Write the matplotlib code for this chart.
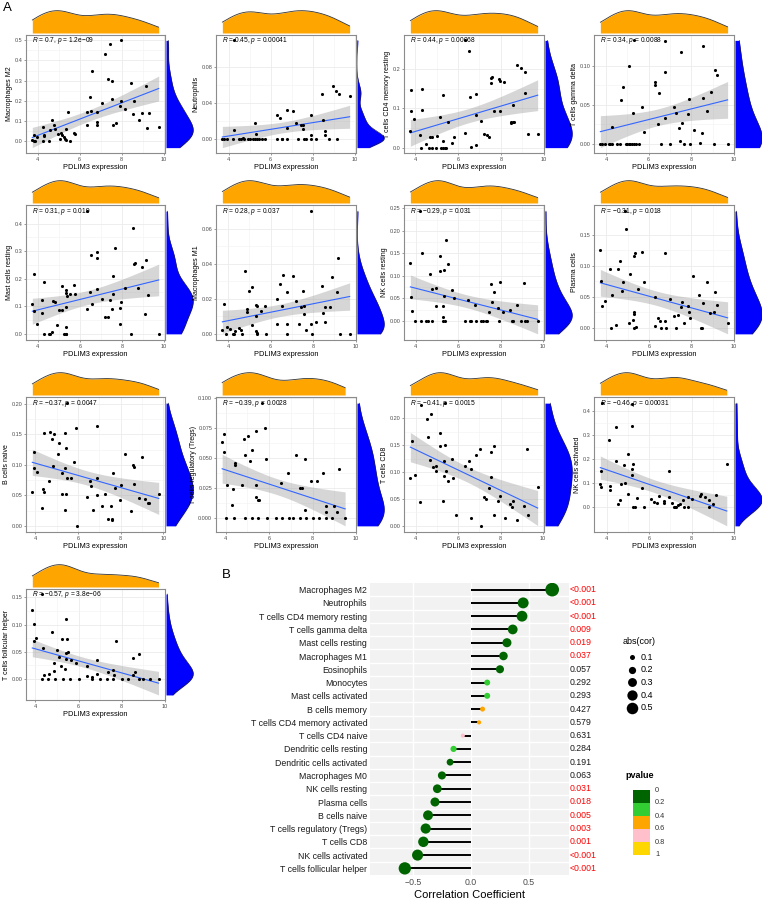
import numpy as np
import matplotlib.pyplot as plt
from matplotlib.patches import Rectangle
import matplotlib.transforms as mtransforms

plt.rcParams['font.family'] = ['Liberation Sans', 'DejaVu Sans']
plt.rcParams['mathtext.fontset'] = 'custom'
plt.rcParams['mathtext.rm'] = 'Liberation Sans'
plt.rcParams['mathtext.it'] = 'Liberation Sans:italic'

# ---- panel A data: (PDLIM3 expression, immune cell fraction)
m2_pts = [(3.81, 0.0), (3.80, 0.03), (3.74, 0.005), (3.85, 0.0), (3.95, 0.02), (4.23, 0.0), (4.26, 0.07),
          (4.31, 0.03), (4.29, 0.025), (4.54, 0.0), (4.59, 0.055), (4.70, 0.105), (4.78, 0.08), (4.81, 0.06),
          (4.95, 0.035), (5.04, 0.01), (5.13, 0.04), (5.16, 0.03), (5.24, 0.02), (5.32, 0.01), (5.36, 0.005),
          (5.35, 0.06), (5.43, 0.145), (5.55, 0.0), (5.71, 0.04), (5.78, 0.035), (6.34, 0.145), (6.36, 0.08),
          (6.48, 0.22), (6.56, 0.15), (6.60, 0.35), (6.82, 0.095), (6.82, 0.08), (6.85, 0.145), (7.07, 0.19),
          (7.22, 0.43), (7.35, 0.31), (7.46, 0.48), (7.53, 0.30), (7.56, 0.21), (7.60, 0.08), (7.72, 0.09),
          (7.92, 0.175), (7.95, 0.50), (7.98, 0.20), (8.17, 0.16), (8.47, 0.29), (8.53, 0.135), (8.60, 0.20),
          (8.82, 0.105), (8.98, 0.14), (9.15, 0.275), (9.19, 0.065), (9.29, 0.14), (9.77, 0.07)]
neu_pts = [(4.24, 0.109), (3.70, 0), (3.79, 0), (3.92, 0), (4.19, 0), (4.24, 0.0105), (4.47, 0), (4.59, 0),
           (4.66, 0.001), (4.74, 0), (4.90, 0), (5.03, 0), (5.14, 0), (5.25, 0), (5.34, 0), (5.46, 0), (5.61, 0),
           (5.72, 0), (5.25, 0.018), (5.30, 0.006), (6.29, 0), (6.31, 0.027), (6.45, 0.024), (6.52, 0), (6.56, 0),
           (6.78, 0), (6.78, 0.032), (6.80, 0.012), (7.04, 0.031), (7.20, 0.018), (7.32, 0), (7.43, 0.016),
           (7.53, 0.011), (7.54, 0.016), (7.59, 0), (7.69, 0), (7.91, 0), (7.94, 0.005), (7.94, 0.027), (8.15, 0),
           (8.43, 0.05), (8.51, 0.021), (8.57, 0.009), (8.57, 0.005), (8.78, 0), (8.95, 0.059), (9.13, 0.053),
           (9.27, 0.05), (9.17, 0), (9.76, 0.048)]
cd4r_pts = [(3.77, 0.0425), (3.82, 0.147), (3.82, 0.092), (3.95, 0.072), (4.2, 0.031), (4.28, 0), (4.31, 0.149),
            (4.31, 0.095), (4.51, 0.0085), (4.62, 0), (4.69, 0.026), (4.77, 0.028), (4.77, 0), (4.97, 0),
            (5.0, 0.030), (5.15, 0.077), (5.2, 0), (5.31, 0.133), (5.29, 0.016), (5.31, 0), (5.38, 0), (5.43, 0),
            (5.54, 0.065), (5.72, 0.013), (5.8, 0.028), (6.31, 0.037), (6.34, 0.273), (6.49, 0.247), (6.54, 0.129),
            (6.62, 0.002), (6.82, 0.137), (6.82, 0.006), (6.82, 0.082), (7.05, 0.069), (7.2, 0.034), (7.35, 0.033),
            (7.46, 0.026), (7.54, 0.164), (7.54, 0.178), (7.58, 0.181), (7.69, 0.094), (7.91, 0.175), (7.94, 0.170),
            (7.97, 0.092), (8.15, 0.167), (8.46, 0.066), (8.49, 0.062), (8.55, 0.109), (8.57, 0.064), (8.62, 0.066),
            (8.77, 0.21), (8.95, 0.203), (9.11, 0.139), (9.15, 0.192), (9.25, 0.034), (9.72, 0.034)]
gd_pts = [(3.73, 0), (3.81, 0), (3.94, 0), (4.12, 0), (4.2, 0), (4.28, 0), (4.52, 0), (4.64, 0), (4.91, 0),
          (4.98, 0), (5.06, 0), (5.14, 0), (5.22, 0), (5.33, 0), (5.42, 0), (5.53, 0), (6.58, 0), (7.02, 0),
          (7.67, 0), (7.92, 0), (9.08, 0), (9.70, 0), (4.28, 0.021), (4.72, 0.056), (4.77, 0.073), (5.09, 0.10),
          (5.28, 0.040), (5.30, 0.133), (5.69, 0.047), (5.77, 0.015), (6.28, 0.08), (6.28, 0.075), (6.44, 0.026),
          (6.5, 0.065), (6.78, 0.132), (6.78, 0.092), (6.78, 0.033), (7.17, 0.047), (7.3, 0.04), (7.42, 0.02),
          (7.48, 0.003), (7.52, 0.118), (7.56, 0.027), (7.86, 0.038), (7.89, 0.057), (8.11, 0.018), (8.41, 0.001),
          (8.48, 0.014), (8.55, 0.059), (8.55, 0.126), (8.75, 0.042), (8.91, 0.067), (9.13, 0.095), (9.22, 0.088)]
mastr_pts = [(3.74, 0.11), (3.81, 0.217), (3.81, 0.083), (3.95, 0.034), (4.2, 0.076), (4.2, 0.121), (4.28, 0),
             (4.31, 0.189), (4.51, 0), (4.59, 0), (4.67, 0.008), (4.74, 0.119), (4.81, 0.117), (4.9, 0.032),
             (5.01, 0.085), (5.13, 0.172), (5.16, 0.085), (5.27, 0), (5.32, 0), (5.36, 0), (5.32, 0.159),
             (5.32, 0.148), (5.32, 0.025), (5.35, 0.097), (5.4, 0.136), (5.55, 0.145), (5.71, 0.177), (5.78, 0.145),
             (6.33, 0.445), (6.33, 0.089), (6.47, 0.153), (6.53, 0.286), (6.6, 0.107), (6.82, 0.297), (6.82, 0.275),
             (6.84, 0.163), (7.07, 0.127), (7.21, 0.062), (7.33, 0.062), (7.44, 0.123), (7.57, 0.208), (7.57, 0.145),
             (7.53, 0.089), (7.69, 0.311), (7.91, 0.094), (7.92, 0.037), (7.95, 0.116), (8.14, 0.168), (8.42, 0),
             (8.51, 0.384), (8.57, 0.254), (8.6, 0.256), (8.78, 0.166), (8.95, 0.242), (9.12, 0.073), (9.16, 0.268),
             (9.26, 0.142), (9.75, 0)]
m1_pts = [(3.73, 0.002), (3.81, 0.017), (3.89, 0), (3.97, 0.004), (4.08, 0.003), (4.24, 0), (4.28, 0),
          (4.31, 0.0015), (4.52, 0.0035), (4.6, 0.002), (4.66, 0), (4.78, 0.036), (4.91, 0.0123), (4.99, 0.0247),
          (5.13, 0.0267), (5.14, 0.005), (4.91, 0.014), (5.29, 0.0103), (5.3, 0.0164), (5.32, 0.0015), (5.36, 0),
          (5.38, 0.0005), (5.36, 0.016), (5.54, 0.013), (5.72, 0.016), (5.77, 0), (6.3, 0.0198), (6.3, 0.0058),
          (6.46, 0.0285), (6.55, 0.0159), (6.6, 0.0336), (6.79, 0.024), (6.79, 0.0054), (6.79, 0), (7.06, 0.033),
          (7.18, 0.0187), (7.32, 0.0058), (7.42, 0.0151), (7.53, 0.0243), (7.56, 0.0161), (7.57, 0.0116),
          (7.68, 0.002), (7.89, 0.0058), (7.92, 0.07), (7.95, 0), (8.15, 0.0067), (8.42, 0.0271), (8.48, 0.012),
          (8.55, 0.0069), (8.58, 0.0153), (8.78, 0.0151), (8.91, 0.0325), (9.13, 0.0238), (9.17, 0.0434),
          (9.25, 0), (9.72, 0)]
nkr_pts = [(3.75, 0.128), (3.8, 0.054), (3.81, 0.022), (3.95, 0), (4.19, 0.244), (4.27, 0), (4.3, 0.151),
           (4.5, 0), (4.58, 0), (4.66, 0.104), (4.77, 0.071), (4.78, 0), (4.94, 0.033), (4.97, 0.072),
           (5.13, 0.144), (5.16, 0.11), (5.27, 0), (5.29, 0.008), (5.29, 0.033), (5.32, 0.056), (5.33, 0.114),
           (5.37, 0), (5.41, 0.18), (5.52, 0.126), (5.71, 0.069), (5.79, 0.05), (6.31, 0), (6.46, 0.047),
           (6.54, 0), (6.59, 0), (6.81, 0.036), (6.83, 0), (7.06, 0), (7.19, 0), (7.3, 0), (7.34, 0), (7.44, 0.02),
           (7.53, 0.081), (7.6, 0.042), (7.69, 0.064), (7.89, 0.029), (7.92, 0), (7.96, 0.086), (8.14, 0.02),
           (8.43, 0.025), (8.52, 0), (8.58, 0), (8.76, 0.036), (8.96, 0), (9.1, 0.085), (9.15, 0), (9.23, 0),
           (9.75, 0)]
plasma_pts = [(3.72, 0.125), (3.77, 0.076), (3.78, 0.035), (3.92, 0.043), (4.19, 0.094), (4.23, 0),
              (4.27, 0.052), (4.47, 0.004), (4.55, 0.094), (4.63, 0.107), (4.73, 0.059), (4.77, 0.074),
              (4.92, 0.159), (5.06, 0.008), (5.13, 0.086), (5.25, 0.012), (5.28, 0.025), (5.28, 0.022),
              (5.3, 0.115), (5.34, 0.121), (5.31, 0), (5.38, 0.001), (4.89, 0.188), (5.48, 0.063), (5.67, 0.122),
              (5.75, 0.074), (6.27, 0.003), (6.3, 0.049), (6.42, 0.016), (6.5, 0.011), (6.56, 0), (6.77, 0.121),
              (6.77, 0.011), (6.81, 0), (7.0, 0.047), (7.16, 0.018), (7.28, 0), (7.39, 0.02), (7.52, 0.033),
              (7.55, 0.042), (7.63, 0.007), (7.86, 0.035), (7.89, 0.026), (7.91, 0.016), (8.09, 0.083),
              (8.36, 0.053), (8.45, 0), (8.5, 0), (8.53, 0.04), (8.73, 0.074), (8.88, 0.023), (9.08, 0.025),
              (9.11, 0.057), (9.22, 0.036), (9.7, 0.007)]
bn_pts = [(3.86, 0.056), (3.92, 0.121), (3.92, 0.094), (4.08, 0.089), (4.39, 0.152), (4.34, 0.06), (4.4, 0.056),
          (4.64, 0.073), (4.7, 0.153), (4.78, 0.143), (4.88, 0.15), (4.85, 0.098), (5.04, 0.118), (5.1, 0.135),
          (5.24, 0.086), (5.24, 0.052), (5.4, 0.152), (5.41, 0.095), (5.43, 0.052), (5.44, 0.128), (5.5, 0.079),
          (5.66, 0.079), (5.8, 0.105), (5.91, 0.161), (6.4, 0.047), (6.56, 0.074), (6.6, 0.066), (6.87, 0.164),
          (6.88, 0.079), (6.88, 0.051), (7.26, 0.053), (7.64, 0.086), (7.75, 0.062), (8.0, 0.067), (7.98, 0.042),
          (8.22, 0.118), (8.57, 0.099), (8.64, 0.097), (8.64, 0.069), (8.85, 0.045), (9.01, 0.113), (9.16, 0.044),
          (9.26, 0.037), (9.33, 0.037), (9.78, 0.052), (4.31, 0.029), (5.4, 0.026), (5.97, 0), (6.68, 0.026),
          (7.13, 0.033), (7.53, 0.033), (7.41, 0.012), (7.6, 0.011), (7.6, 0.009), (8.5, 0.024), (5.47, 0.201)]
treg_pts = [(3.84, 0.0636), (3.92, 0.0702), (3.92, 0.0551), (4.06, 0.0281), (4.31, 0.011), (4.36, 0.0244),
            (4.41, 0.046), (4.42, 0.0446), (4.75, 0.0281), (4.86, 0.0656), (4.91, 0.0523), (5.02, 0.0685),
            (5.1, 0.048), (5.22, 0.0565), (5.41, 0.0722), (5.41, 0.0276), (5.41, 0.0176), (5.49, 0.015),
            (5.52, 0.015), (5.68, 0.0957), (5.83, 0.075), (5.88, 0.0494), (6.55, 0.029), (6.85, 0.0378),
            (7.24, 0.0523), (7.42, 0.0253), (7.53, 0.025), (7.63, 0.049), (7.65, 0.007), (7.95, 0.031),
            (8.2, 0.031), (8.47, 0.038), (8.62, 0.01), (8.62, 0.005), (8.98, 0.01), (9.22, 0.041), (9.14, 0.005),
            (4.0, 0), (4.4, 0), (4.9, 0), (5.2, 0), (5.5, 0), (5.9, 0), (6.3, 0), (6.6, 0), (6.9, 0), (7.1, 0),
            (7.4, 0), (7.7, 0), (8.0, 0), (8.3, 0), (8.6, 0), (8.9, 0), (9.5, 0)]
cd8_pts = [(3.75, 0.089), (3.81, 0.158), (3.95, 0.094), (4.19, 0.045), (4.27, 0.224), (4.52, 0.198),
           (4.58, 0.166), (4.66, 0.123), (4.74, 0.208), (4.82, 0.109), (4.94, 0.101), (4.97, 0.111), (5.13, 0.173),
           (5.16, 0.148), (5.29, 0.047), (5.32, 0.093), (5.33, 0.12), (5.37, 0.15), (5.4, 0.228), (5.41, 0.102),
           (5.54, 0.084), (5.71, 0.125), (5.76, 0.088), (6.31, 0.111), (6.51, 0.12), (6.59, 0.105), (6.83, 0.131),
           (7.05, 0.142), (7.2, 0.053), (7.33, 0.049), (7.44, 0.071), (7.53, 0.137), (7.56, 0.091), (7.7, 0.148),
           (7.89, 0.046), (7.96, 0.056), (8.43, 0.04), (8.52, 0.035), (8.58, 0.046), (9.1, 0.037), (9.26, 0.142),
           (9.75, 0.072), (5.9, 0.02), (6.6, 0.015), (7.1, 0.0), (7.7, 0.02), (8.2, 0.015), (8.8, 0.01),
           (9.3, 0.02)]
nka_pts = [(3.7, 0.095), (3.72, 0.082), (3.8, 0.434), (3.74, 0.149), (4.13, 0.281), (4.16, 0.089), (4.16, 0.072),
           (4.42, 0.334), (4.45, 0.193), (4.53, 0.011), (4.61, 0.028), (4.66, 0.097), (4.81, 0.176), (4.86, 0.101),
           (5.02, 0.22), (5.02, 0.055), (5.17, 0.432), (5.17, 0.338), (5.17, 0.157), (5.17, 0.132), (5.22, 0.18),
           (5.25, 0), (5.33, 0), (5.45, 0.038), (5.66, 0.078), (5.75, 0), (6.09, 0.034), (6.22, 0.02),
           (6.38, 0.015), (6.48, 0.045), (6.69, 0.018), (6.69, 0.024), (6.92, 0.149), (6.95, 0.043),
           (7.08, 0.015), (7.16, 0), (7.23, 0), (7.28, 0), (7.36, 0.008), (7.44, 0.011), (7.59, 0.027), (7.66, 0),
           (7.83, 0), (7.84, 0.043), (8.03, 0.035), (8.38, 0.045), (8.44, 0.054), (8.64, 0.041), (8.8, 0.031),
           (8.84, 0), (9.03, 0.011), (9.14, 0.051), (9.66, 0.178)]
tfh_pts = [(3.86, 0.126), (3.92, 0.101), (3.92, 0.069), (4.05, 0.076), (4.31, 0.156), (4.36, 0.056),
           (4.39, 0.0075), (4.64, 0.0085), (4.78, 0.087), (4.85, 0.029), (4.88, 0.015), (5.01, 0.054),
           (5.09, 0.041), (5.21, 0.024), (5.24, 0.074), (5.36, 0.019), (5.4, 0.11), (5.41, 0.037), (5.47, 0.074),
           (5.5, 0.05), (5.44, 0.048), (5.63, 0.034), (5.86, 0.029), (6.37, 0.024), (6.4, 0.006), (6.64, 0.0035),
           (6.87, 0.035), (6.87, 0.0085), (7.38, 0.0125), (7.58, 0.016), (7.64, 0.007), (7.74, 0.07),
           (8.5, 0.0075), (8.54, 0.038), (8.62, 0.012), (8.81, 0.046), (4.3, 0), (4.6, 0), (4.9, 0), (5.3, 0),
           (5.6, 0), (6.0, 0), (6.6, 0), (7.0, 0), (7.3, 0), (7.6, 0), (8.0, 0), (8.3, 0), (8.8, 0), (9.0, 0),
           (9.3, 0), (9.7, 0)]

panel_names = ["Macrophages M2", "Neutrophils", "T cells CD4 memory resting", "T cells gamma delta",
               "Mast cells resting", "Macrophages M1", "NK cells resting", "Plasma cells",
               "B cells naive", "T cells regulatory (Tregs)", "T cells CD8", "NK cells activated",
               "T cells follicular helper"]
panel_pts = [m2_pts, neu_pts, cd4r_pts, gd_pts, mastr_pts, m1_pts, nkr_pts, plasma_pts,
             bn_pts, treg_pts, cd8_pts, nka_pts, tfh_pts]
panel_r = ["0.7", "0.45", "0.44", "0.34", "0.31", "0.28", "\u22120.29", "\u22120.31",
           "\u22120.37", "\u22120.39", "\u22120.41", "\u22120.46", "\u22120.57"]
panel_p = ["1.2e\u221209", "0.00041", "0.00068", "0.0088", "0.019", "0.037", "0.031", "0.018",
           "0.0047", "0.0028", "0.0015", "0.00031", "3.8e\u221206"]
panel_yticks = [[0.0, 0.1, 0.2, 0.3, 0.4, 0.5], [0.00, 0.04, 0.08], [0.0, 0.1, 0.2], [0.00, 0.05, 0.10],
                [0.0, 0.1, 0.2, 0.3, 0.4], [0.00, 0.02, 0.04, 0.06], [0.00, 0.05, 0.10, 0.15, 0.20, 0.25],
                [0.00, 0.05, 0.10, 0.15], [0.00, 0.05, 0.10, 0.15, 0.20], [0.000, 0.025, 0.050, 0.075, 0.100],
                [0.00, 0.05, 0.10, 0.15, 0.20], [0.0, 0.1, 0.2, 0.3, 0.4], [0.00, 0.05, 0.10, 0.15]]
panel_ydec = [1, 2, 1, 2, 1, 2, 2, 2, 2, 3, 2, 1, 2]
x_ticks = [4, 6, 8, 10]

# ---- panel B data
cells = ["Macrophages M2", "Neutrophils", "T cells CD4 memory resting", "T cells gamma delta",
         "Mast cells resting", "Macrophages M1", "Eosinophils", "Monocytes", "Mast cells activated",
         "B cells memory", "T cells CD4 memory activated", "T cells CD4 naive", "Dendritic cells resting",
         "Dendritic cells activated", "Macrophages M0", "NK cells resting", "Plasma cells", "B cells naive",
         "T cells regulatory (Tregs)", "T cells CD8", "NK cells activated", "T cells follicular helper"]
cor = [0.70, 0.45, 0.44, 0.36, 0.31, 0.28, 0.25, 0.14, 0.14, 0.10, 0.07, -0.07, -0.15, -0.18, -0.25,
       -0.29, -0.31, -0.37, -0.39, -0.41, -0.46, -0.57]
pval = [1.2e-9, 0.00041, 0.00068, 0.0088, 0.019, 0.037, 0.057, 0.292, 0.293, 0.427, 0.579, 0.631, 0.284,
        0.191, 0.063, 0.031, 0.018, 0.0047, 0.0028, 0.0015, 0.00031, 3.8e-6]
pval_text = ["<0.001", "<0.001", "<0.001", "0.009", "0.019", "0.037", "0.057", "0.292", "0.293", "0.427",
             "0.579", "0.631", "0.284", "0.191", "0.063", "0.031", "0.018", "0.005", "0.003", "0.001",
             "<0.001", "<0.001"]
p_breaks = [0, 0.2, 0.4, 0.6, 0.8, 1]
p_colors = ["#006400", "#32CD32", "#FFA500", "#FFC0CB", "#FFD700"]
size_breaks = [0.1, 0.2, 0.3, 0.4, 0.5]

W, H = 762, 900
fig = plt.figure(figsize=(W / 100, H / 100), dpi=100)


def px_axes(l, t, r, b):
    return fig.add_axes([l / W, 1 - b / H, (r - l) / W, (b - t) / H])


def kde(v, grid, adjust=1.0):
    n = len(v)
    sd = v.std(ddof=1)
    iqr = np.subtract(*np.percentile(v, [75, 25]))
    spread = min(sd, iqr / 1.34) if iqr > 0 else sd
    bw = adjust * 0.9 * spread * n ** -0.2
    z = (grid[:, None] - v[None, :]) / bw
    return np.exp(-0.5 * z ** 2).sum(1) / (n * bw * np.sqrt(2 * np.pi))


def lm_band(x, y, xs):
    n = len(x)
    b, a = np.polyfit(x, y, 1)
    res = y - (a + b * x)
    s = np.sqrt((res ** 2).sum() / (n - 2))
    se = s * np.sqrt(1 / n + (xs - x.mean()) ** 2 / ((x - x.mean()) ** 2).sum())
    fit = a + b * xs
    return fit, fit - 2.004 * se, fit + 2.004 * se


def scatter_panel(l, t, r, b, k):
    x, y = np.array(panel_pts[k], dtype=float).T
    xs = np.linspace(x.min(), x.max(), 80)
    fit, lo, hi = lm_band(x, y, xs)
    ymin, ymax = min(y.min(), lo.min()), max(y.max(), hi.max())
    ypad = 0.05 * (ymax - ymin)
    xpad = 0.05 * (x.max() - x.min())

    ax = px_axes(l, t, r, b)
    ax.set_xlim(x.min() - xpad, x.max() + xpad)
    ax.set_ylim(ymin - ypad, ymax + ypad)
    ax.set_xticks(x_ticks)
    ax.set_xticks([5, 7, 9], minor=True)
    yt = panel_yticks[k]
    ax.set_yticks(yt)
    ax.set_yticklabels([f"{v:.{panel_ydec[k]}f}" for v in yt])
    ax.set_yticks([(yt[i] + yt[i + 1]) / 2 for i in range(len(yt) - 1)], minor=True)
    ax.grid(True, which='major', color='#EBEBEB', lw=0.6)
    ax.grid(True, which='minor', color='#F2F2F2', lw=0.4)
    ax.set_axisbelow(True)
    for sp in ax.spines.values():
        sp.set_color('#8C8C8C')
        sp.set_linewidth(0.8)
    ax.tick_params(which='major', labelsize=4, colors='#4D4D4D', length=1.5, width=0.4, pad=1.2)
    ax.tick_params(which='minor', length=0)
    ax.fill_between(xs, lo, hi, color='#999999', alpha=0.4, lw=0)
    ax.plot(xs, fit, color='#3366FF', lw=0.8)
    ax.scatter(x, y, s=5, color='black', lw=0, zorder=3)
    ax.text(x.min(), y.max(), rf"$\it{{R}}$ = {panel_r[k]}, $\it{{p}}$ = {panel_p[k]}",
            fontsize=4.8, va='center', ha='left', zorder=4)
    ax.set_xlabel("PDLIM3 expression", fontsize=5.3, labelpad=1.5)
    ax.set_ylabel(panel_names[k], fontsize=5.0, labelpad=1.0)

    # top marginal density (PDLIM3)
    axt = px_axes(l, t - 25, r, t - 2)
    gx = np.linspace(x.min(), x.max(), 256)
    dx = kde(x, gx)
    axt.fill_between(gx, 0, dx, color='#FFA500', lw=0)
    axt.plot(gx, dx, color='#333333', lw=0.6)
    axt.set_xlim(ax.get_xlim())
    axt.set_ylim(0, dx.max() * 1.03)
    axt.axis('off')

    # right marginal density (cell fraction)
    axr = px_axes(r + 1, t, r + 29, b)
    gy = np.linspace(ymin, ymax, 256)
    dy = kde(y, gy, adjust=1.4)
    axr.fill_betweenx(gy, 0, dy, color='#0000FF', lw=0)
    axr.plot(dy, gy, color='#222222', lw=0.4)
    axr.set_ylim(ax.get_ylim())
    axr.set_xlim(0, dy.max() * 1.03)
    axr.axis('off')


cols = [(26, 165), (216, 356), (404, 544), (594, 734)]
rows = [(35, 153), (205, 340), (397, 532), (589, 700)]
for k in range(len(panel_pts)):
    cl, cr = cols[k % 4]
    rt, rb = rows[k // 4]
    scatter_panel(cl, rt, cr, rb, k)

# ---- panel B: lollipop
def dot_size(v):
    d = np.sqrt(270 * np.abs(v) - 2)
    return (0.72 * d) ** 2


def p_color(p):
    idx = np.searchsorted(p_breaks, p, side='right') - 1
    return p_colors[min(max(idx, 0), len(p_colors) - 1)]


axb = px_axes(370, 583, 569, 875)
axb.set_facecolor('#F2F2F2')
pos = np.arange(len(cells))
for i in range(len(cells) - 1):
    axb.axhline(i + 0.5, color='white', lw=1.0, zorder=0)
for xv in [-0.5, 0, 0.5]:
    axb.axvline(xv, color='white', lw=1.0, zorder=0)
axb.hlines(pos, 0, cor, color='black', lw=1.4, zorder=2)
axb.scatter(cor, pos, s=[dot_size(c) for c in cor], c=[p_color(p) for p in pval], lw=0, zorder=3)
axb.set_ylim(len(cells) - 0.5, -0.5)
axb.set_xlim(-0.87, 0.845)
axb.set_yticks(pos)
axb.set_yticklabels(cells, fontsize=6.3, color='#1A1A1A')
axb.set_xticks([-0.5, 0.0, 0.5])
axb.set_xticklabels(["\u22120.5", "0.0", "0.5"], fontsize=6.3, color='#4D4D4D')
axb.tick_params(length=0, pad=2)
for sp in axb.spines.values():
    sp.set_visible(False)
axb.set_xlabel("Correlation Coefficient", fontsize=8, labelpad=2)
trans = mtransforms.blended_transform_factory(axb.transAxes, axb.transData)
for i, (pt, p) in enumerate(zip(pval_text, pval)):
    axb.text(1.005, i, pt, transform=trans, fontsize=6.3, va='center', ha='left',
             color='#FF0000' if p < 0.05 else '#1A1A1A')

# ---- overlay for panel letters and legends
ov = fig.add_axes([0, 0, 1, 1])
ov.set_xlim(0, W)
ov.set_ylim(H, 0)
ov.axis('off')
ov.text(3, 8, "A", fontsize=9.5, va='center', ha='left')
ov.text(222, 575, "B", fontsize=9.5, va='center', ha='left')

ov.text(623, 641, "abs(cor)", fontsize=6.5, va='center', ha='left')
for j, v in enumerate(size_breaks):
    yy = 657 + 12.7 * j
    ov.scatter(632, yy, s=dot_size(v), color='black', lw=0)
    ov.text(641, yy, f"{v:.1f}", fontsize=6.5, va='center', ha='left')

ov.text(625, 775, "pvalue", fontsize=6.5, fontweight='bold', va='center', ha='left')
for j, c in enumerate(p_colors):
    ov.add_patch(Rectangle((633, 790 + 13 * j), 17, 13, color=c, lw=0))
for j, v in enumerate(p_breaks):
    ov.text(655, 790 + 13 * j, f"{v:g}", fontsize=5.3, va='center', ha='left', color='#333333')

fig.savefig("out.png", dpi=100)
